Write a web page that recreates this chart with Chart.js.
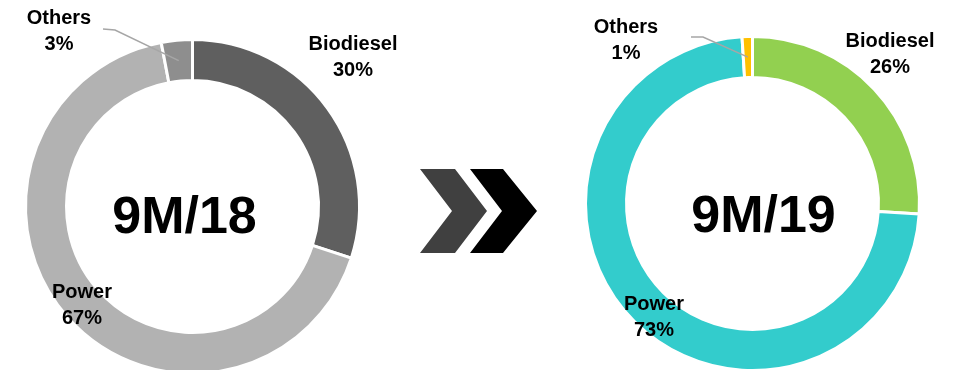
<!DOCTYPE html>
<html>
<head>
<meta charset="utf-8">
<script src="https://cdn.jsdelivr.net/npm/chart.js@4/dist/chart.umd.min.js"></script>
<style>
  html, body { margin: 0; padding: 0; background: #fff; overflow: hidden; }
  body { width: 964px; height: 370px; position: relative; }
  canvas { position: absolute; top: 0; }
  #arrows { position: absolute; left: 0; top: 0; }
</style>
</head>
<body>
<canvas id="chart18" width="400" height="420" style="left:0"></canvas>
<canvas id="chart19" width="404" height="420" style="left:560px"></canvas>
<svg id="arrows" width="964" height="370">
  <polygon points="420,169 455,169 487,211 455,253 420,253 452,211" fill="#404040"/>
  <polygon points="470,169 503,169 537,211 503,253 470,253 502,211" fill="#000"/>
</svg>
<script>
const categories = ["Biodiesel", "Power", "Others"];
const values18 = [30, 67, 3];
const values19 = [26, 73, 1];
const colors18 = ["#5f5f5f", "#b2b2b2", "#8e8e8e"];
const colors19 = ["#92d050", "#33cccc", "#ffc000"];

const FONT = '"Liberation Sans", Arial, sans-serif';

// draws the period name, the slice labels and the leader to the small slice
const donutLabels = {
  id: "donutLabels",
  afterDraw(chart, args, opts) {
    const ctx = chart.ctx;
    const meta = chart.getDatasetMeta(0);
    const cx = meta.data[0].x;
    const cy = meta.data[0].y;
    const data = chart.data.datasets[0].data;

    ctx.save();
    ctx.fillStyle = "#000";
    ctx.textAlign = "center";
    ctx.textBaseline = "alphabetic";

    ctx.font = "700 52px " + FONT;
    ctx.fillText(opts.title, cx + opts.titleAt[0], cy + opts.titleAt[1]);

    ctx.font = "700 20px " + FONT;
    chart.data.labels.forEach((label, i) => {
      const p = opts.labelAt[i];
      ctx.fillText(label, cx + p[0], cy + p[1]);
      ctx.fillText(data[i] + "%", cx + p[0], cy + p[1] + 25.5);
    });

    // leader line into the "Others" slice
    const end = meta.data[2].getCenterPoint();
    ctx.strokeStyle = "#a6a6a6";
    ctx.lineWidth = 1.5;
    ctx.beginPath();
    ctx.moveTo(cx + opts.leader[0][0], cy + opts.leader[0][1]);
    ctx.lineTo(cx + opts.leader[1][0], cy + opts.leader[1][1]);
    ctx.lineTo(end.x, end.y);
    ctx.stroke();
    ctx.restore();
  },
};

function makeDonut(id, values, colors, padding, labelOpts) {
  return new Chart(document.getElementById(id), {
    type: "doughnut",
    data: {
      labels: categories,
      datasets: [
        {
          data: values,
          backgroundColor: colors,
          borderColor: "#ffffff",
          borderWidth: 3,
        },
      ],
    },
    options: {
      responsive: false,
      animation: false,
      devicePixelRatio: 1,
      radius: 167,
      cutout: "75.45%",
      layout: { padding: padding },
      plugins: {
        legend: { display: false },
        tooltip: { enabled: false },
        donutLabels: labelOpts,
      },
    },
    plugins: [donutLabels],
  });
}

makeDonut("chart18", values18, colors18,
  { left: 0, top: 0, right: 15, bottom: 7 },
  {
    title: "9M/18",
    titleAt: [-8, 26.5],
    labelAt: [[160.5, -156.5], [-110.5, 91.5], [-133.5, -182.5]],
    leader: [[-89.5, -177.5], [-77.5, -176.5]],
  });

makeDonut("chart19", values19, colors19,
  { left: 0, top: 0, right: 19, bottom: 13 },
  {
    title: "9M/19",
    titleAt: [11, 28.5],
    labelAt: [[137.5, -156.5], [-98.5, 106.5], [-126.5, -170.5]],
    leader: [[-61.5, -166.5], [-49.5, -166.5]],
  });
</script>
</body>
</html>
